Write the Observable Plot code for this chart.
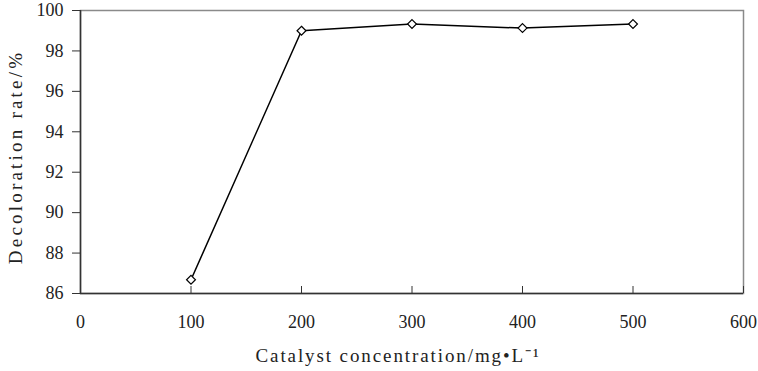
<!DOCTYPE html>
<html><head><meta charset="utf-8">
<script src="https://cdn.jsdelivr.net/npm/d3@7"></script>
<script src="https://cdn.jsdelivr.net/npm/@observablehq/plot@0.6"></script>
<style>body{margin:0;background:#fff} svg{display:block}</style>
</head><body><div id="chart"></div>
<script>
const concentration = [100, 200, 300, 400, 500];
const decoloration = [86.68, 99.0, 99.33, 99.13, 99.33];
const xTicks = [0, 100, 200, 300, 400, 500, 600];
const yTicks = [86, 88, 90, 92, 94, 96, 98, 100];
const xTitle = "Catalyst concentration/mg\u2022L\u207B\u00B9";
const yTitle = "Decoloration rate/%";

const data = concentration.map((c, i) => ({c, v: decoloration[i]}));

const chart = Plot.plot({
  width: 758, height: 371,
  marginLeft: 80, marginTop: 10, marginRight: 15, marginBottom: 78,
  style: {fontFamily: "'Liberation Serif', 'Times New Roman', serif", fontSize: "18px", color: "#222", background: "#fff"},
  x: {domain: [0, 600]},
  y: {domain: [86, 100]},
  marks: [
    Plot.frame({stroke: "#8a8a8a", strokeWidth: 1.5}),
    Plot.ruleX([0], {stroke: "#333", strokeWidth: 1.5}),
    Plot.ruleY([86], {stroke: "#333", strokeWidth: 1.5}),
    Plot.axisX({ticks: xTicks, tickSize: -7, tickPadding: 29, tickFormat: d => String(d), label: null, stroke: "#333"}),
    Plot.axisY({ticks: yTicks, tickSize: 8, tickPadding: 9, tickFormat: d => String(d), label: null, stroke: "#333"}),
    Plot.line(data, {x: "c", y: "v", stroke: "#000", strokeWidth: 1.5}),
    Plot.dot(data, {x: "c", y: "v", symbol: "diamond2", r: 4, fill: "#fff", stroke: "#000", strokeWidth: 1.2}),
    Plot.text([xTitle], {text: d => d, frameAnchor: "bottom", textAnchor: "middle", dx: -14, dy: 68, fontSize: 19, fill: "#222"}),
    Plot.text([yTitle], {text: d => d, frameAnchor: "left", textAnchor: "middle", rotate: -90, dx: -65, dy: 5, fontSize: 19, fill: "#222"})
  ]
});
document.getElementById("chart").appendChild(chart);
d3.select(chart).selectAll("text").filter(function() { return this.textContent === xTitle; })
  .style("letter-spacing", "1.9px");
d3.select(chart).selectAll("text").filter(function() { return this.textContent === yTitle; })
  .style("letter-spacing", "3.2px");
</script>
</body></html>
